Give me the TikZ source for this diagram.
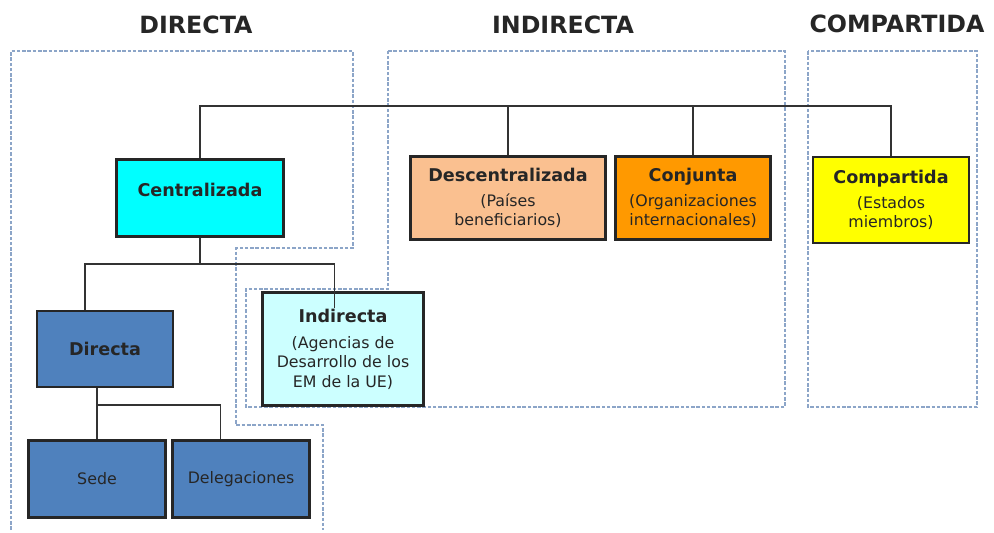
\documentclass[tikz,border=0pt]{standalone}
\usepackage{fontspec}
\setmainfont{DejaVu Sans}
\usepackage{tikz}
\usetikzlibrary{positioning}

\definecolor{azulzona}{RGB}{140,165,200}
\definecolor{cian}{RGB}{0,255,255}
\definecolor{cianclaro}{RGB}{204,255,255}
\definecolor{melocoton}{RGB}{250,192,144}
\definecolor{naranja}{RGB}{255,153,0}
\definecolor{amarillo}{RGB}{255,255,0}
\definecolor{azulcaja}{RGB}{79,129,189}

\tikzset{
  caja/.style={draw=black!85, line width=1.3pt, align=center, inner sep=1pt,
    text=black!85, font=\fontsize{9}{11}\selectfont},
  titulo/.style={font=\fontsize{13.5}{15}\selectfont\bfseries, text=black!85},
  linea/.style={draw=black!80, line width=1.1pt},
  zona/.style={draw=azulzona, line width=0.6pt, dash pattern=on 2pt off 1pt}
}
\newcommand{\negrita}[1]{{\fontsize{10}{12}\selectfont\bfseries #1}}

\begin{document}
\begin{tikzpicture}[x=0.02cm, y=-0.02cm]
            \useasboundingbox (0,0) rectangle (994,533);

            % zonas
            \draw[zona] (11,530) -- (11,51) -- (353,51) -- (353,248) -- (236,248)
                -- (236,425) -- (323,425) -- (323,530);
            \draw[zona] (388,51) -- (785,51) -- (785,407) -- (246,407) -- (246,289)
                -- (388,289) -- cycle;
            \draw[zona] (808,51) rectangle (977,407);

            \node[titulo] (tDirecta) at (196,25) {DIRECTA};
            \node[titulo] (tIndirecta) at (563,25) {INDIRECTA};
            \node[titulo] (tCompartida) at (897,24) {COMPARTIDA};

            % cajas
            \node[caja, fill=cian, minimum width=3.34cm, minimum height=1.54cm]
                (Centralizada) at (200,198) {\negrita{Centralizada}\\[-2pt]};
            \node[caja, fill=melocoton, minimum width=3.9cm, minimum height=1.66cm]
                (Descentralizada) at (508,198) {\negrita{Descentralizada}\\[3pt](Países\\beneficiarios)};
            \node[caja, fill=naranja, minimum width=3.1cm, minimum height=1.66cm]
                (Conjunta) at (693,198) {\negrita{Conjunta}\\[3pt](Organizaciones\\internacionales)};
            \node[caja, fill=amarillo, minimum width=3.12cm, minimum height=1.72cm]
                (Compartida) at (891,200) {\negrita{Compartida}\\[3pt](Estados\\miembros)};
            \node[caja, fill=azulcaja, minimum width=2.72cm, minimum height=1.52cm]
                (Directa) at (105,349) {\negrita{Directa}};
            \node[caja, fill=cianclaro, minimum width=3.22cm, minimum height=2.26cm]
                (Indirecta) at (343,349) {\negrita{Indirecta}\\[4pt](Agencias de\\Desarrollo de los\\EM de la UE)};
            \node[caja, fill=azulcaja, minimum width=2.74cm, minimum height=1.54cm]
                (Sede) at (97,479) {Sede};
            \node[caja, fill=azulcaja, minimum width=2.74cm, minimum height=1.54cm]
                (Delegaciones) at (241,479) {Delegaciones};

            \coordinate (barra) at (0,106);
            \coordinate (ramaC) at (0,264);
            \coordinate (ramaD) at (0,405);

            % conectores
            \draw[linea] (Centralizada.north) -- (Centralizada.north |- barra) -| (Compartida.north);
            \draw[linea] (Descentralizada.north) -- (Descentralizada.north |- barra);
            \draw[linea] (Conjunta.north) -- (Conjunta.north |- barra);
            \draw[linea] (Centralizada.south) -- (Centralizada.south |- ramaC);
            \draw[linea] ([xshift=-0.4cm]Directa.north) |- (Centralizada.south |- ramaC)
                -| ([xshift=-0.17cm,yshift=-0.34cm]Indirecta.north);
            \draw[linea] (Directa.south -| Sede.north) -- (Sede.north);
            \draw[linea] (Sede.north |- ramaD) -| ([xshift=-0.41cm]Delegaciones.north);
        \end{tikzpicture}
\end{document}
